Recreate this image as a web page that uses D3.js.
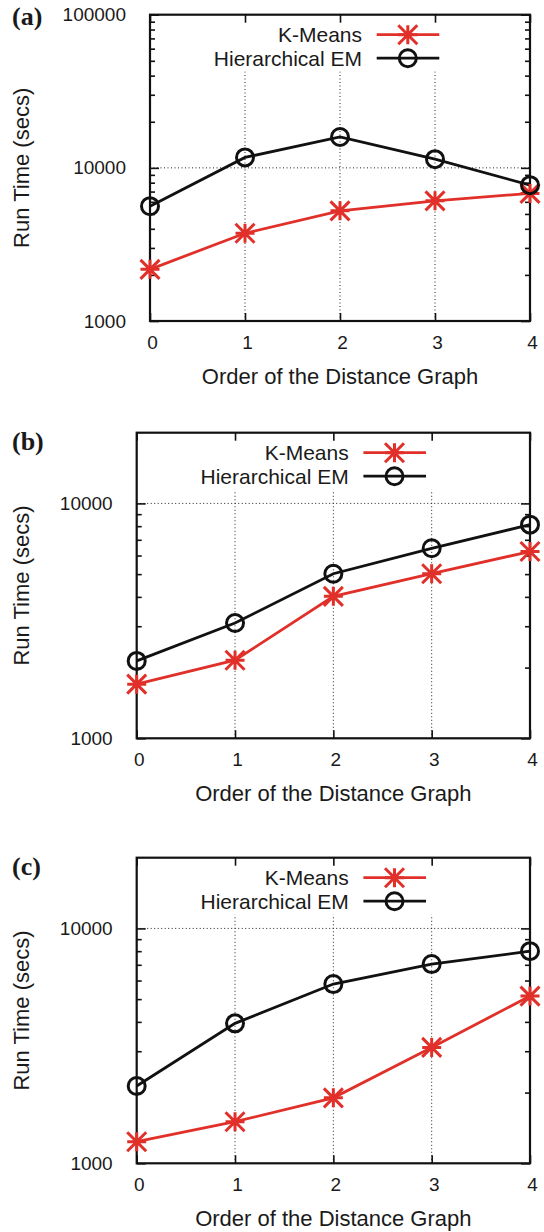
<!DOCTYPE html>
<html>
<head>
<meta charset="utf-8">
<script src="https://cdn.jsdelivr.net/npm/d3@7"></script>
<style>
html,body{margin:0;padding:0;background:#fff;}
svg{display:block;}
text{font-family:"Liberation Sans",Arial,Helvetica,sans-serif;fill:#1a1a1a;}
</style>
</head>
<body>
<svg id="chart" width="544" height="1232"></svg>
<script>
// ---- data ----
const orders = [0, 1, 2, 3, 4];
const seriesNames = ["K-Means", "Hierarchical EM"];
const panelLabels = ["(a)", "(b)", "(c)"];
const kmeansA = [2175, 3740, 5240, 6090, 6810];
const hemA    = [5620, 11700, 15900, 11400, 7710];
const kmeansB = [1700, 2150, 4020, 5020, 6240];
const hemB    = [2135, 3095, 5020, 6440, 8120];
const kmeansC = [1236, 1503, 1900, 3115, 5150];
const hemC    = [2133, 3943, 5795, 7050, 8000];
const yTicksA = [1000, 10000, 100000];
const yTicksBC = [1000, 10000];
const yMaxA = 100000;
const yMaxBC = 20000;
const xTitle = "Order of the Distance Graph";
const yTitle = "Run Time (secs)";

// ---- layout ----
const panels = [
  {label: panelLabels[0], km: kmeansA, hem: hemA, ymax: yMaxA, yticks: yTicksA, L: 150, R: 530, T: 14.7, B: 321, labelY: 25},
  {label: panelLabels[1], km: kmeansB, hem: hemB, ymax: yMaxBC, yticks: yTicksBC, L: 136.7, R: 530, T: 432.7, B: 738.3, labelY: 450},
  {label: panelLabels[2], km: kmeansC, hem: hemC, ymax: yMaxBC, yticks: yTicksBC, L: 136.7, R: 530, T: 857.7, B: 1163.3, labelY: 875}
];
const RED = "#e1302a";
const BLACK = "#111";
const svg = d3.select("#chart");

const starType = {
  draw(ctx, size) {
    const r = Math.sqrt(size) / 2;
    ctx.moveTo(-r, 0); ctx.lineTo(r, 0);
    ctx.moveTo(0, -r); ctx.lineTo(0, r);
    ctx.moveTo(-r, -r); ctx.lineTo(r, r);
    ctx.moveTo(-r, r); ctx.lineTo(r, -r);
  }
};
const starPath = d3.symbol().type(starType).size(19 * 19)();
const circPath = d3.symbol().type(d3.symbolCircle).size(Math.PI * 8.5 * 8.5)();

function minorValues(ymax) {
  const vals = [];
  for (let dec = 1000; dec < ymax; dec *= 10) {
    for (let k = 2; k <= 9; k++) {
      const v = dec * k;
      if (v < ymax) vals.push(v);
    }
  }
  return vals;
}

panels.forEach(p => {
  const g = svg.append("g");
  const x = d3.scaleLinear().domain([0, 4]).range([p.L, p.R]);
  const y = d3.scaleLog().domain([1000, p.ymax]).range([p.B, p.T]);

  // grid
  const gridTop = p.T + 57;
  g.append("g").selectAll("line").data(orders.slice(1, 4)).join("line")
    .attr("x1", d => x(d)).attr("x2", d => x(d))
    .attr("y1", p.B).attr("y2", gridTop)
    .attr("stroke", "#222").attr("stroke-width", 1).attr("stroke-dasharray", "1,2.5");
  g.append("g").selectAll("line").data(p.yticks.filter(v => v > 1000 && v < p.ymax)).join("line")
    .attr("x1", p.L).attr("x2", p.R)
    .attr("y1", d => y(d)).attr("y2", d => y(d))
    .attr("stroke", "#222").attr("stroke-width", 1).attr("stroke-dasharray", "1,2.5");

  // minor ticks
  const mv = minorValues(p.ymax);
  const minL = g.append("g").attr("transform", `translate(${p.L},0)`)
    .call(d3.axisLeft(y).tickValues(mv).tickSize(-5).tickFormat(""));
  const minR = g.append("g").attr("transform", `translate(${p.R},0)`)
    .call(d3.axisRight(y).tickValues(mv).tickSize(-5).tickFormat(""));
  // major y
  const majL = g.append("g").attr("transform", `translate(${p.L},0)`)
    .call(d3.axisLeft(y).tickValues(p.yticks).tickSize(-9).tickPadding(24).tickFormat(d3.format("d")));
  const majR = g.append("g").attr("transform", `translate(${p.R},0)`)
    .call(d3.axisRight(y).tickValues(p.yticks).tickSize(-9).tickFormat(""));
  // x axes
  const xB = g.append("g").attr("transform", `translate(0,${p.B})`)
    .call(d3.axisBottom(x).tickValues(orders).tickSize(-8).tickPadding(14.5).tickFormat(d3.format("d")));
  const xT = g.append("g").attr("transform", `translate(0,${p.T})`)
    .call(d3.axisTop(x).tickValues(orders).tickSize(-8).tickFormat(""));

  [minL, minR, majL, majR, xB, xT].forEach(a => {
    a.select(".domain").remove();
    a.selectAll(".tick line").attr("stroke", BLACK).attr("stroke-width", 1.6);
    a.selectAll(".tick text").attr("fill", "#1a1a1a").style("font-family", "'Liberation Sans',Arial,sans-serif").style("font-size", "19px");
  });
  xB.selectAll(".tick text").attr("dx", 2);

  // frame
  g.append("rect").attr("x", p.L).attr("y", p.T).attr("width", p.R - p.L).attr("height", p.B - p.T)
    .attr("fill", "none").attr("stroke", BLACK).attr("stroke-width", 2.2);

  // series
  const line = d3.line().x((d, i) => x(orders[i])).y(d => y(d));
  g.append("path").datum(p.km).attr("d", line).attr("fill", "none").attr("stroke", RED).attr("stroke-width", 2.8);
  g.append("path").datum(p.hem).attr("d", line).attr("fill", "none").attr("stroke", BLACK).attr("stroke-width", 2.8);
  g.append("g").selectAll("path").data(p.km).join("path")
    .attr("transform", (d, i) => `translate(${x(orders[i])},${y(d)})`)
    .attr("d", starPath).attr("fill", "none").attr("stroke", RED).attr("stroke-width", 3);
  g.append("g").selectAll("path").data(p.hem).join("path")
    .attr("transform", (d, i) => `translate(${x(orders[i])},${y(d)})`)
    .attr("d", circPath).attr("fill", "none").attr("stroke", BLACK).attr("stroke-width", 3);

  // legend
  const rows = [
    {name: seriesNames[0], color: RED, path: starPath, dy: 20},
    {name: seriesNames[1], color: BLACK, path: circPath, dy: 43.5}
  ];
  rows.forEach(r => {
    const cy = p.T + r.dy;
    g.append("text").attr("x", p.L + 212).attr("y", cy + 7.6).attr("text-anchor", "end")
      .style("font-size", "21px").text(r.name);
    g.append("line").attr("x1", p.L + 226.7).attr("x2", p.L + 289.3).attr("y1", cy).attr("y2", cy)
      .attr("stroke", r.color).attr("stroke-width", 2.8);
    g.append("path").attr("transform", `translate(${p.L + 257.8},${cy})`).attr("d", r.path)
      .attr("fill", "none").attr("stroke", r.color).attr("stroke-width", 3);
  });

  // titles
  g.append("text").attr("x", (p.L + p.R) / 2).attr("y", p.B + 63).attr("text-anchor", "middle")
    .style("font-size", "22px").text(xTitle);
  g.append("text").attr("transform", `translate(29,${(p.T + p.B) / 2}) rotate(-90)`).attr("text-anchor", "middle")
    .style("font-size", "22px").text(yTitle);
  g.append("text").attr("x", 12).attr("y", p.labelY)
    .style("font-family", "'Liberation Serif','Times New Roman',serif").style("font-weight", "bold").style("font-size", "26px")
    .text(p.label);
});
</script>
</body>
</html>
